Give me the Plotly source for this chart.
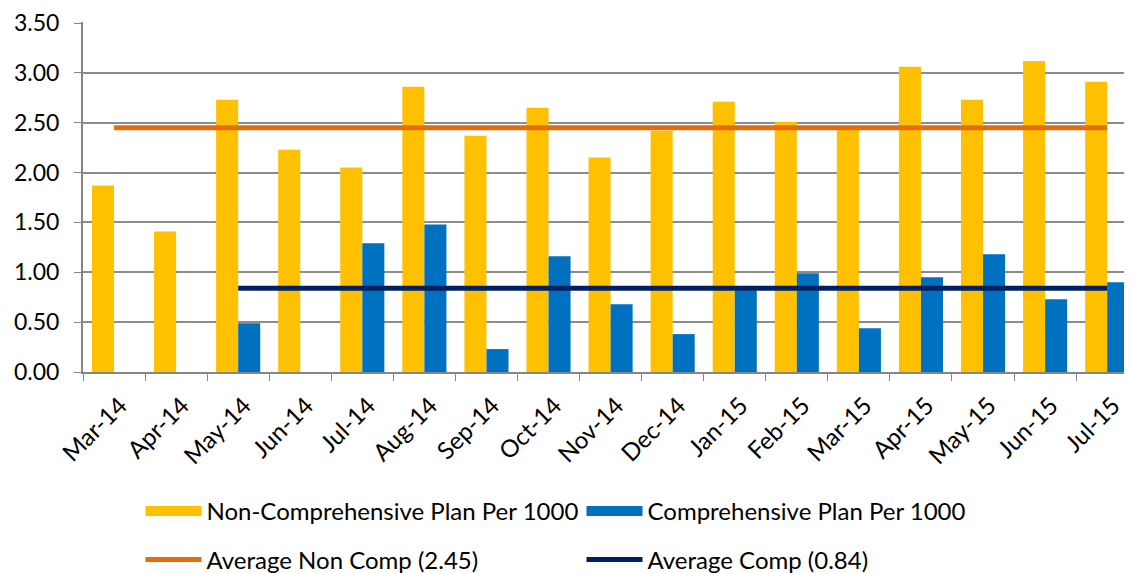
import plotly.graph_objects as go

months = ["Mar-14", "Apr-14", "May-14", "Jun-14", "Jul-14", "Aug-14", "Sep-14", "Oct-14",
          "Nov-14", "Dec-14", "Jan-15", "Feb-15", "Mar-15", "Apr-15", "May-15", "Jun-15", "Jul-15"]
non_comp = [1.87, 1.41, 2.73, 2.23, 2.05, 2.86, 2.37, 2.65, 2.15, 2.42, 2.71, 2.51, 2.46, 3.06, 2.73, 3.12, 2.91]
comp = [0, 0, 0.49, 0, 1.29, 1.48, 0.23, 1.16, 0.68, 0.38, 0.82, 0.99, 0.44, 0.95, 1.18, 0.73, 0.90]
avg_non_comp = 2.45
avg_comp = 0.84
avg_comp_months = months[2:]

FONT = "Lato"
YELLOW, BLUE, ORANGE, NAVY = "#FFC000", "#0070C0", "#E46C0A", "#002060"

fig = go.Figure()
fig.add_trace(go.Bar(x=months, y=non_comp, name="Non-Comprehensive Plan Per 1000",
                     marker=dict(color=YELLOW, line=dict(width=0)), showlegend=False))
fig.add_trace(go.Bar(x=months, y=comp, name="Comprehensive Plan Per 1000",
                     marker=dict(color=BLUE, line=dict(width=0)), showlegend=False))
fig.add_trace(go.Scatter(x=months, y=[avg_non_comp] * len(months), mode="lines",
                         name="Average Non Comp (2.45)", line=dict(color=ORANGE, width=5),
                         legend="legend2"))
fig.add_trace(go.Scatter(x=avg_comp_months, y=[avg_comp] * len(avg_comp_months), mode="lines",
                         name="Average Comp (0.84)", line=dict(color=NAVY, width=5),
                         legend="legend2"))
# legend swatches for the bar series
fig.add_trace(go.Scatter(x=[None], y=[None], mode="lines", name="Non-Comprehensive Plan Per 1000",
                         line=dict(color=YELLOW, width=15), legend="legend"))
fig.add_trace(go.Scatter(x=[None], y=[None], mode="lines", name="Comprehensive Plan Per 1000",
                         line=dict(color=BLUE, width=15), legend="legend"))

W, H = 1124, 565
legend_common = dict(orientation="h", xref="container", yref="container", x=132.5 / W,
                     xanchor="left", yanchor="middle", entrywidth=370, itemwidth=56,
                     font=dict(family=FONT, size=24, color="#000000"), bgcolor="rgba(0,0,0,0)")
fig.update_layout(
    width=W, height=H,
    margin=dict(l=75, r=0, t=14, b=201),
    plot_bgcolor="white", paper_bgcolor="white",
    barmode="group", bargap=0.29, bargroupgap=0,
    font=dict(family=FONT, size=22, color="#000000"),
    legend=dict(**legend_common, y=61.5 / H),
    legend2=dict(**legend_common, y=13.0 / H),
    xaxis=dict(type="category", range=[-0.5, 16.4], tickangle=-45, tickson="boundaries",
               ticks="outside", ticklen=7, tickcolor="#868686", showline=True,
               linecolor="#868686", linewidth=2, showgrid=False, automargin=False,
               ticklabelstandoff=8, ticklabelshift=6,
               tickfont=dict(family=FONT, size=24, color="#000000")),
    yaxis=dict(range=[0, 3.51], tickvals=[0, 0.5, 1, 1.5, 2, 2.5, 3, 3.5],
               tickformat=".2f", showgrid=True,
               gridcolor="#8c8c8c", gridwidth=2, ticks="outside", ticklen=7,
               tickcolor="#868686", showline=True, linecolor="#868686", linewidth=2,
               zeroline=False, automargin=False, ticklabelstandoff=10,
               tickfont=dict(family=FONT, size=23, color="#000000")),
)
fig.write_html("out.html")
